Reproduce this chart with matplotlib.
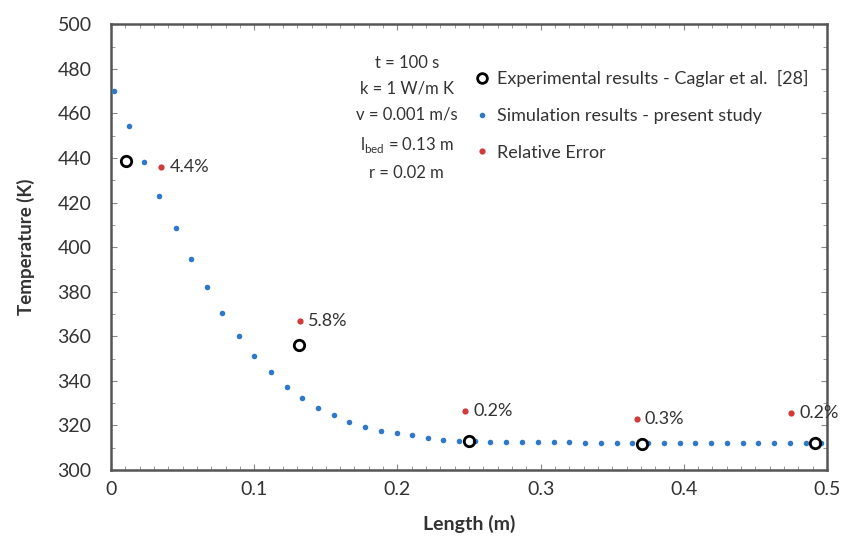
import matplotlib.pyplot as plt
from matplotlib.lines import Line2D
from matplotlib.ticker import MultipleLocator

plt.rcParams['font.family'] = ['Lato', 'DejaVu Sans']

# simulation (present study)
sim_x = [0.002, 0.0125, 0.0228, 0.0335, 0.0454, 0.0559, 0.0672, 0.0773, 0.0896, 0.0998,
         0.1118, 0.1227, 0.1336, 0.1448, 0.1555, 0.1662, 0.1774, 0.1884, 0.1995, 0.2104,
         0.2214, 0.2321, 0.2430, 0.2540, 0.2650, 0.2760, 0.2870, 0.2980, 0.3090, 0.3200,
         0.3310, 0.3420, 0.3530, 0.3640, 0.3750, 0.3860, 0.3970, 0.4080, 0.4190, 0.4300,
         0.4410, 0.4520, 0.4630, 0.4740, 0.4850, 0.4960]
sim_T = [470.1, 454.5, 438.3, 423.1, 408.6, 394.5, 382.3, 370.3, 360.2, 351.2,
         343.8, 337.3, 332.3, 327.8, 324.5, 321.5, 319.5, 317.6, 316.5, 315.5,
         314.3, 313.5, 313.1, 312.9, 312.6, 312.6, 312.5, 312.5, 312.4, 312.4,
         312.3, 312.3, 312.3, 312.2, 312.2, 312.2, 312.2, 312.2, 312.2, 312.1,
         312.1, 312.1, 312.1, 312.1, 312.1, 312.1]

# experimental data (Caglar et al.)
exp_x = [0.0105, 0.131, 0.250, 0.371, 0.4916]
exp_T = [438.7, 355.9, 313.1, 311.7, 312.2]

# relative error markers and their labels
err_x = [0.035, 0.132, 0.247, 0.367, 0.475]
err_T = [436.0, 366.7, 326.6, 323.0, 325.7]
err_labels = ['4.4%', '5.8%', '0.2%', '0.3%', '0.2%']

params = ['t = 100 s', 'k = 1 W/m K', 'v = 0.001 m/s',
          r'l$_\mathregular{bed}$ = 0.13 m', 'r = 0.02 m']

blue = '#2f78c8'
red = '#d23a3a'
txt = '#333333'

fig = plt.figure(figsize=(8.45, 5.48), dpi=100)
ax = fig.add_axes([0.1314, 0.1423, 0.8473, 0.8135])

ax.plot(sim_x, sim_T, 'o', color=blue, ms=4, mec='none', zorder=3)
ax.plot(exp_x, exp_T, 'o', mfc='none', mec='black', mew=2, ms=7.5, zorder=4)
ax.plot(err_x, err_T, 'o', color=red, ms=4.5, mec='none', zorder=3)
for x, y, s in zip(err_x, err_T, err_labels):
    ax.annotate(s, (x, y), xytext=(6, 0), textcoords='offset points',
                va='center', ha='left', fontsize=13, color=txt)

ax.set_xlim(0, 0.5)
ax.set_ylim(300, 500)
ax.set_xticks([0, 0.1, 0.2, 0.3, 0.4, 0.5])
ax.set_xticklabels(['0', '0.1', '0.2', '0.3', '0.4', '0.5'])
ax.xaxis.set_minor_locator(MultipleLocator(0.01))
ax.yaxis.set_major_locator(MultipleLocator(20))
ax.yaxis.set_minor_locator(MultipleLocator(10))
ax.tick_params(which='both', direction='in', top=True, right=True, color='#888888')
ax.tick_params(which='major', length=4, labelsize=14, labelcolor=txt)
ax.tick_params(axis='y', which='major', pad=14)
ax.tick_params(axis='x', which='major', pad=8)
ax.tick_params(which='minor', length=3)
for sp in ax.spines.values():
    sp.set_linewidth(1.8)
    sp.set_color('#555555')

ax.set_xlabel('Length (m)', fontsize=14, fontweight='bold', color=txt, labelpad=12)
ax.set_ylabel('Temperature (K)', fontsize=13.5, fontweight='bold', color=txt, labelpad=16)

ax.text(0.413, 0.932, '\n'.join(params), transform=ax.transAxes, ha='center', va='top',
        fontsize=12, color=txt, linespacing=1.78)

handles = [
    Line2D([], [], ls='none', marker='o', mfc='none', mec='black', mew=2, ms=7),
    Line2D([], [], ls='none', marker='o', color=blue, mec='none', ms=4),
    Line2D([], [], ls='none', marker='o', color=red, mec='none', ms=4.5),
]
labels = ['Experimental results - Caglar et al.  [28]',
          'Simulation results - present study',
          'Relative Error']
leg = ax.legend(handles, labels, loc='upper left', bbox_to_anchor=(0.511, 0.897),
                frameon=False, fontsize=13, handlelength=0.6, handletextpad=0.5,
                labelspacing=1.15, borderaxespad=0, borderpad=0)
for t in leg.get_texts():
    t.set_color(txt)

fig.savefig('out.png', dpi=100)
